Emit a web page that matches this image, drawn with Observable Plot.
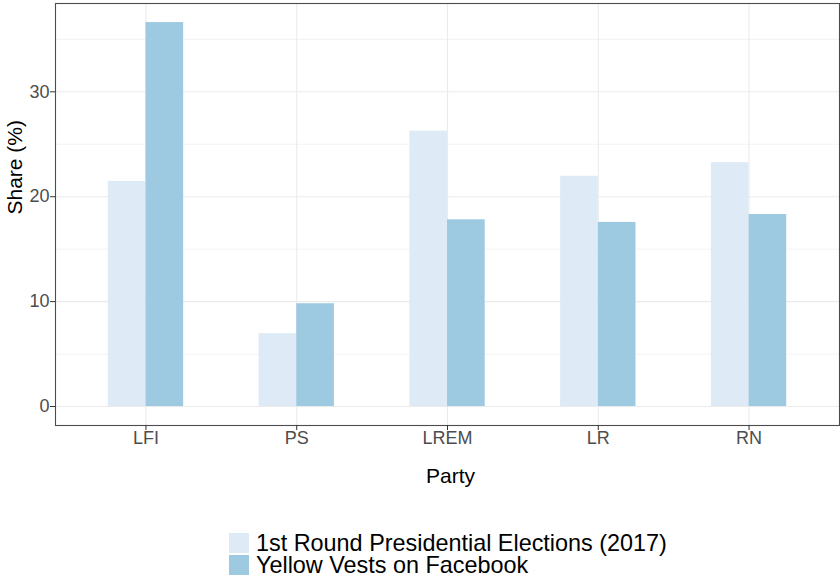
<!DOCTYPE html>
<html>
<head>
<meta charset="utf-8">
<script src="https://cdn.jsdelivr.net/npm/d3@7"></script>
<script src="https://cdn.jsdelivr.net/npm/@observablehq/plot@0.6"></script>
<style>
  html, body { margin: 0; padding: 0; background: #fff; }
  body { width: 840px; height: 577px; overflow: hidden; font-family: "Liberation Sans", Arial, sans-serif; }
  #chart svg { display: block; }
  #legend { padding-left: 229px; margin-top: 23px; }
  .row { display: flex; align-items: center; height: 20px; margin-bottom: 1.7px; }
  .sw { width: 20px; height: 20px; margin-right: 7px; flex: none; }
  .lbl { font-size: 23.4px; line-height: 20px; color: #000; white-space: nowrap; }
</style>
</head>
<body>
<div id="chart"></div>
<div id="legend"></div>
<script>
const parties = ["LFI", "PS", "LREM", "LR", "RN"];
const seriesNames = ["1st Round Presidential Elections (2017)", "Yellow Vests on Facebook"];
const election2017 = [21.45, 6.95, 26.25, 21.95, 23.25];
const yellowVests = [36.6, 9.8, 17.8, 17.55, 18.3];
const seriesColors = ["#deebf7", "#9ecae1"];
const yTicks = [0, 10, 20, 30];
const yMinorTicks = [5, 15, 25, 35];
const xTickIndex = [0, 1, 2, 3, 4];

const seriesValues = [election2017, yellowVests];
const table = [];
parties.forEach((p, i) => {
  seriesValues.forEach((vals, j) => {
    table.push({party: p, series: seriesNames[j], value: vals[i], x1: i + (j - 1) * 0.25, x2: i + j * 0.25});
  });
});

const font = "'Liberation Sans', Arial, sans-serif";
const chart = Plot.plot({
  width: 840,
  height: 510,
  marginLeft: 55,
  marginRight: 1,
  marginTop: 3,
  marginBottom: 85,
  style: {fontFamily: font, background: "white"},
  x: {domain: [-0.6, 4.6], axis: null},
  y: {domain: [-1.81, 38.42], axis: null},
  color: {domain: seriesNames, range: seriesColors},
  marks: [
    Plot.ruleY(yMinorTicks, {stroke: "#ebebeb", strokeWidth: 0.6}),
    Plot.ruleY(yTicks, {stroke: "#ebebeb", strokeWidth: 1.1}),
    Plot.ruleX(xTickIndex, {stroke: "#ebebeb", strokeWidth: 1.1}),
    Plot.rectY(table, {x1: "x1", x2: "x2", y1: 0, y2: "value", fill: "series"}),
    Plot.frame({stroke: "#4d4d4d", strokeWidth: 1.1}),
    Plot.axisY({ticks: yTicks, tickSize: 5, tickPadding: 1, fontSize: 18, stroke: "#333", fill: "#4d4d4d", label: null}),
    Plot.axisX({ticks: xTickIndex, tickFormat: i => parties[i], tickSize: 5, tickPadding: 1, fontSize: 18, stroke: "#333", fill: "#4d4d4d", label: null}),
    Plot.text(["Share (%)"], {text: d => d, frameAnchor: "left", rotate: -90, dx: -40, fontSize: 21, fill: "#000"}),
    Plot.text(["Party"], {text: d => d, frameAnchor: "bottom", dy: 57, dx: 3, fontSize: 21, fill: "#000"})
  ]
});
document.getElementById("chart").appendChild(chart);

const legend = document.getElementById("legend");
seriesNames.forEach((name, j) => {
  const row = document.createElement("div");
  row.className = "row";
  const sw = document.createElement("div");
  sw.className = "sw";
  sw.style.background = seriesColors[j];
  const lbl = document.createElement("div");
  lbl.className = "lbl";
  lbl.textContent = name;
  row.appendChild(sw);
  row.appendChild(lbl);
  legend.appendChild(row);
});
</script>
</body>
</html>
